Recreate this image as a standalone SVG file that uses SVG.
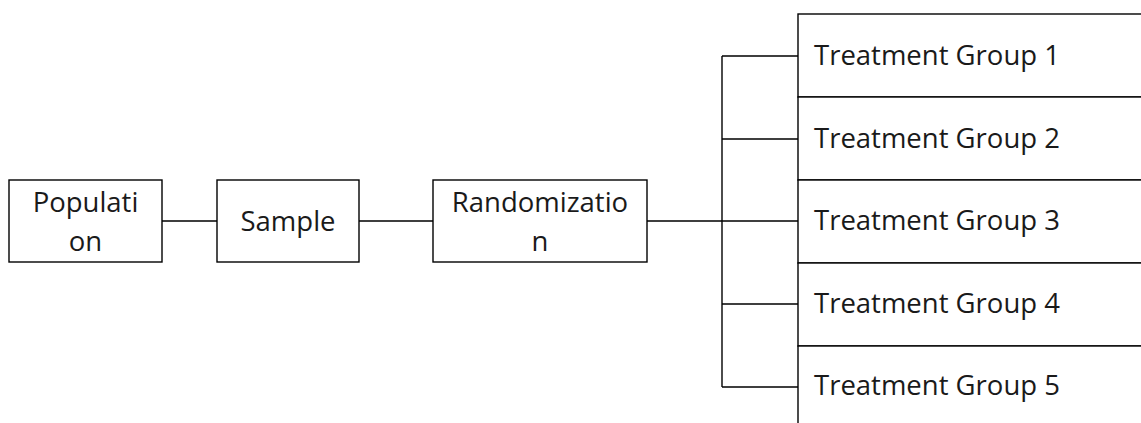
<svg xmlns="http://www.w3.org/2000/svg" width="1141" height="423" viewBox="0 0 1141 423">
  <style>
    .box { fill: #ffffff; stroke: #000000; stroke-width: 1.4; }
    .wire { fill: none; stroke: #000000; stroke-width: 1.4; }
    .lbl { font-family: "Open Sans", "Liberation Sans", sans-serif; font-size: 27.5px; fill: #1a1a1a; }
    .mid { text-anchor: middle; }
  </style>
  <rect width="1141" height="423" fill="#ffffff"/>

  <g id="connectors">
    <path class="wire" d="M162 221 H217 M359 221 H433 M647 221 H798"/>
    <path class="wire" d="M722 56 V387"/>
    <path class="wire" d="M722 56 H798 M722 139 H798 M722 304 H798 M722 387 H798"/>
  </g>

  <g id="population">
    <rect class="box" x="9" y="180" width="153" height="82"/>
    <text class="lbl mid" x="85.5" y="212">Populati</text>
    <text class="lbl mid" x="85.5" y="251">on</text>
  </g>

  <g id="sample">
    <rect class="box" x="217" y="180" width="142" height="82"/>
    <text class="lbl mid" x="288" y="231">Sample</text>
  </g>

  <g id="randomization">
    <rect class="box" x="433" y="180" width="214" height="82"/>
    <text class="lbl mid" x="540" y="212">Randomizatio</text>
    <text class="lbl mid" x="540" y="251">n</text>
  </g>

  <g id="treatment-group-1">
    <rect class="box" x="798" y="14" width="360" height="83"/>
    <text class="lbl" x="814" y="65">Treatment Group 1</text>
  </g>
  <g id="treatment-group-2">
    <rect class="box" x="798" y="97" width="360" height="83"/>
    <text class="lbl" x="814" y="148">Treatment Group 2</text>
  </g>
  <g id="treatment-group-3">
    <rect class="box" x="798" y="180" width="360" height="83"/>
    <text class="lbl" x="814" y="230">Treatment Group 3</text>
  </g>
  <g id="treatment-group-4">
    <rect class="box" x="798" y="263" width="360" height="83"/>
    <text class="lbl" x="814" y="313">Treatment Group 4</text>
  </g>
  <g id="treatment-group-5">
    <rect class="box" x="798" y="346" width="360" height="83"/>
    <text class="lbl" x="814" y="395">Treatment Group 5</text>
  </g>
</svg>
